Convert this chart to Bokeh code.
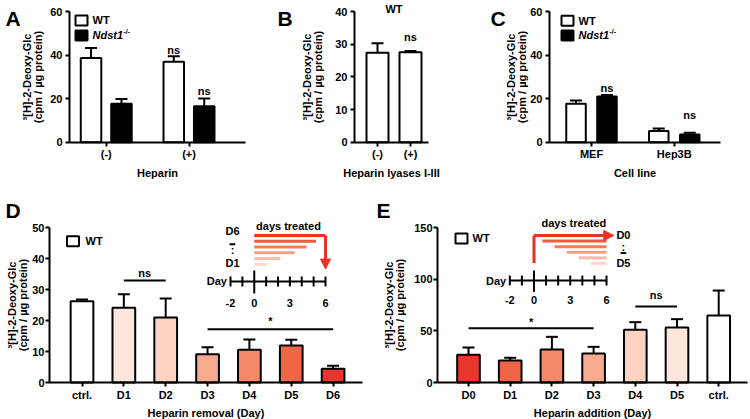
from bokeh.plotting import figure
from bokeh.models import (Range1d, FixedTicker, ColumnDataSource, Whisker, TeeHead,
                          Arrow, NormalHead)
from bokeh.layouts import column, row
from bokeh.embed import file_html
from bokeh.resources import INLINE
from bokeh.core.properties import value

FONT = "Liberation Sans"
FS = "11px"
YLABEL = "³[H]-2-Deoxy-Glc\n(cpm / µg protein)"

# ---------------- data ----------------
# Panel A
a_cats = ["(-)", "(+)"]
a_wt = [38.7, 36.9]
a_wt_err = [4.5, 2.6]
a_ko = [17.6, 16.5]
a_ko_err = [2.2, 3.6]
a_ns_wt = [None, 42.1]
a_ns_ko = [None, 23.7]
# Panel B
b_cats = ["(-)", "(+)"]
b_wt = [27.4, 27.5]
b_wt_err = [2.9, 0.4]
b_ns = [None, 32.1]
# Panel C
c_cats = ["MEF", "Hep3B"]
c_wt = [17.6, 5.1]
c_wt_err = [1.5, 1.2]
c_ko = [21.0, 3.5]
c_ko_err = [0.7, 0.8]
c_ns_ko = [24.9, 12.6]
# Panel D
d_cats = ["ctrl.", "D1", "D2", "D3", "D4", "D5", "D6"]
d_vals = [26.2, 24.1, 21.0, 9.1, 10.6, 11.9, 4.4]
d_err = [0.6, 4.4, 6.1, 2.3, 3.3, 1.9, 1.0]
d_colors = ["#ffffff", "#fde6dc", "#fcd3c1", "#f8aa8e", "#f4896a", "#f06545", "#e8362a"]
d_treat_end = [6, 5.2, 4.4, 3.4, 2.2, 1.1]
# Panel E
e_cats = ["D0", "D1", "D2", "D3", "D4", "D5", "ctrl."]
e_vals = [26.8, 21.3, 31.9, 28.1, 51.0, 53.2, 64.8]
e_err = [7.1, 2.6, 12.3, 6.4, 7.4, 8.1, 24.2]
e_colors = ["#e8362a", "#f06545", "#f4896a", "#f8aa8e", "#fcd3c1", "#fde6dc", "#ffffff"]
e_treat_start = [0, 0.7, 1.7, 2.7, 3.7, 4.7]
# inset schematic
timeline_days = [-2, -1, 0, 1, 2, 3, 4, 5, 6]
timeline_ticklabels = ["-2", "0", "3", "6"]
timeline_tickdays = [-2, 0, 3, 6]
line_colors = ["#ee3124", "#f05a3a", "#f47b5c", "#f7a085", "#f9bba5", "#fcd8ca"]


def setup(ox, oy, w, h, X0, SX, Y0, SY, axis_px, axis_end_px, ymax,
          y_std=3, y_als=5):
    """Frame covers whole canvas; axes are placed at fixed data locations."""
    xr = ((ox - X0) / SX, (ox + w - X0) / SX)
    yr = ((Y0 - (oy + h)) / SY, (Y0 - oy) / SY)
    p = figure(width=w, height=h, x_range=Range1d(*xr), y_range=Range1d(*yr),
               output_backend="svg", toolbar_location=None, title=None,
               min_border=0, min_border_left=0, min_border_right=0,
               min_border_top=0, min_border_bottom=0,
               background_fill_color="white", border_fill_color="white")
    p.outline_line_color = None
    p.xgrid.visible = False
    p.ygrid.visible = False
    for ax in (p.xaxis[0], p.yaxis[0]):
        ax.axis_line_width = 2
        ax.axis_line_color = "black"
        ax.major_tick_line_width = 2
        ax.major_tick_line_color = "black"
        ax.major_tick_out = 4
        ax.major_tick_in = 0
        ax.minor_tick_line_color = None
        ax.major_label_text_font = FONT
        ax.major_label_text_font_size = FS
        ax.major_label_text_font_style = "bold"
        ax.major_label_text_color = "black"
        ax.axis_label_text_font = FONT
        ax.axis_label_text_font_size = FS
        ax.axis_label_text_font_style = "bold"
        ax.axis_label_text_color = "black"
    p.xaxis[0].major_label_standoff = 2
    p.xaxis[0].axis_label_standoff = 3
    p.yaxis[0].major_label_standoff = y_std
    p.yaxis[0].axis_label_standoff = y_als
    p.yaxis[0].axis_label_text_line_height = 0.9
    p.yaxis[0].axis_label = YLABEL
    x_axis = (axis_px - X0) / SX
    x_end = (axis_end_px - X0) / SX
    p.yaxis[0].fixed_location = x_axis
    p.yaxis[0].bounds = (0, ymax)
    p.xaxis[0].fixed_location = 0
    p.xaxis[0].bounds = (x_axis, x_end)

    def to_data(px, py):
        return (px - X0) / SX, (Y0 - py) / SY
    return p, to_data


def set_axes(p, labels, xlabel, yticks):
    p.xaxis[0].ticker = FixedTicker(ticks=list(range(len(labels))))
    p.xaxis[0].major_label_overrides = {i: l for i, l in enumerate(labels)}
    p.xaxis[0].axis_label = xlabel
    p.yaxis[0].ticker = FixedTicker(ticks=yticks)


def bars(p, xs, tops, errs, width, fills):
    src = ColumnDataSource(dict(x=xs, top=tops,
                                upper=[t + e for t, e in zip(tops, errs)],
                                fill=fills))
    p.add_layout(Whisker(source=src, base="x", lower="top", upper="upper",
                         line_width=2, line_color="black",
                         upper_head=TeeHead(size=12, line_width=2, line_color="black"),
                         lower_head=None))
    p.vbar(x="x", top="top", width=width, bottom=0, fill_color="fill",
           line_color="black", line_width=2, source=src)


def txt(p, xs, ys, texts, size=FS, style="bold", align="center", base="middle",
        color="black", **kw):
    p.text(x=xs, y=ys, text=texts, text_font=value(FONT), text_font_size=size,
           text_font_style=style, text_align=align, text_baseline=base,
           text_color=color, **kw)


def letter(p, to_data, px, py_bottom, t):
    x, y = to_data(px, py_bottom)
    txt(p, [x], [y], [t], size="21px", align="left", base="alphabetic")


def legend(p, x_box, x_txt, ys, knockout=True):
    p.rect(x=[x_box], y=[ys[0]], width=12, height=10, width_units="screen",
           height_units="screen", fill_color="white", line_color="black", line_width=2)
    txt(p, [x_txt], [ys[0]], ["WT"], align="left")
    if knockout:
        p.rect(x=[x_box], y=[ys[1]], width=12, height=10, width_units="screen",
               height_units="screen", fill_color="black", line_color="black", line_width=2)
        txt(p, [x_txt], [ys[1]], ["Ndst1"], style="bold italic", align="left")
        txt(p, [x_txt], [ys[1]], ["-/-"], size="7px", align="left",
            x_offset=31, y_offset=-4)


def ns_marks(p, xs, ys, label="ns"):
    pts = [(x, y) for x, y in zip(xs, ys) if y is not None]
    txt(p, [q[0] for q in pts], [q[1] for q in pts], [label] * len(pts))


# ---------------- Panel A ----------------
off, bw = 0.184, 0.248
pA, tA = setup(0, 0, 250, 180, 105.75, 82.75, 141.7, 130.7 / 60, 69, 245, 60,
               y_std=3, y_als=3)
set_axes(pA, a_cats, "Heparin", [0, 20, 40, 60])
gx = list(range(len(a_cats)))
bars(pA, [g - off for g in gx], a_wt, a_wt_err, bw, ["white"] * 2)
bars(pA, [g + off for g in gx], a_ko, a_ko_err, bw, ["black"] * 2)
ns_marks(pA, [g - off for g in gx], a_ns_wt)
ns_marks(pA, [g + off for g in gx], a_ns_ko)
legend(pA, -0.299, -0.166, [55.9, 49.0])
letter(pA, tA, 5, 18, "A")

# ---------------- Panel B ----------------
pB, tB = setup(250, 0, 238, 180, 377, 33, 141.7, 130.7 / 40, 354, 428, 40,
               y_std=3, y_als=8)
set_axes(pB, b_cats, "Heparin lyases I-III", [0, 10, 20, 30, 40])
bars(pB, list(range(len(b_cats))), b_wt, b_wt_err, 0.667, ["white"] * 2)
ns_marks(pB, list(range(len(b_cats))), b_ns)
wx, wy = tB(393.5, 8.5)
txt(pB, [wx], [wy], ["WT"])
letter(pB, tB, 277, 18, "B")

# ---------------- Panel C ----------------
offc, bwc = 0.187, 0.236
pC, tC = setup(488, 0, 262, 180, 591, 82.75, 141.7, 130.7 / 60, 549, 720, 60,
               y_std=3, y_als=-1)
set_axes(pC, c_cats, "Cell line", [0, 20, 40, 60])
gx = list(range(len(c_cats)))
bars(pC, [g - offc for g in gx], c_wt, c_wt_err, bwc, ["white"] * 2)
bars(pC, [g + offc for g in gx], c_ko, c_ko_err, bwc, ["black"] * 2)
ns_marks(pC, [g + offc for g in gx], c_ns_ko)
legend(pC, -0.29, -0.157, [55.7, 49.0])
letter(pC, tC, 490, 18, "C")

# ---------------- Panel D ----------------
pD, tD = setup(0, 180, 375, 239, 81.5, 41.85, 382, 3.1, 49, 362, 50,
               y_std=1, y_als=0)
set_axes(pD, d_cats, "Heparin removal (Day)", [0, 10, 20, 30, 40, 50])
bars(pD, list(range(len(d_cats))), d_vals, d_err, 0.543, d_colors)
legend(pD, -0.215, 0.084, [45.6], knockout=False)
pD.segment(x0=[1, 3], y0=[32.9, 17.2], x1=[2, 6], y1=[32.9, 17.2],
           line_color="black", line_width=2)
txt(pD, [1.5], [35.4], ["ns"])
txt(pD, [4.5], [19.8], ["*"])
letter(pD, tD, 5, 210, "D")
# inset: days axis
pxd = 11.875
pD.extra_x_ranges = {"days": Range1d(-2 - 230 / pxd, -2 + (375 - 230) / pxd)}
tl_y = 32.6
pD.segment(x0=[timeline_days[0]], y0=[tl_y], x1=[timeline_days[-1]], y1=[tl_y],
           line_color="black", line_width=2, x_range_name="days")
pD.segment(x0=timeline_days, x1=timeline_days,
           y0=[tl_y + (3.5 if d == 0 else 1.6) for d in timeline_days],
           y1=[tl_y - (3.9 if d == 0 else 1.6) for d in timeline_days],
           line_color="black", line_width=2, x_range_name="days")
txt(pD, timeline_tickdays, [25.8] * 4, timeline_ticklabels, x_range_name="days")
txt(pD, [-2.3], [tl_y], ["Day"], align="right", x_range_name="days")
d_line_y = [47.4 - i * 1.86 for i in range(len(d_treat_end))]
pD.segment(x0=[0] * len(d_treat_end), x1=d_treat_end, y0=d_line_y, y1=d_line_y,
           line_color=line_colors, line_width=3, x_range_name="days")
pD.add_layout(Arrow(end=NormalHead(size=10, fill_color=line_colors[0],
                                   line_color=line_colors[0]),
                    x_start=d_treat_end[0], y_start=d_line_y[0],
                    x_end=d_treat_end[0], y_end=36.6,
                    line_color=line_colors[0], line_width=3, x_range_name="days"))
txt(pD, [2.88], [50.6], ["days treated"], x_range_name="days")
txt(pD, [-1.83, -1.83], [49.0, 38.7], ["D6", "D1"], x_range_name="days")
pD.segment(x0=[-2.08], x1=[-1.6], y0=[44.6], y1=[44.6], line_color="black",
           line_width=2, x_range_name="days")
txt(pD, [-1.83], [42.6], [":"], x_range_name="days")

# ---------------- Panel E ----------------
pE, tE = setup(375, 180, 375, 239, 468, 41.7, 382, 155 / 150, 437, 747, 150,
               y_std=1, y_als=5)
set_axes(pE, e_cats, "Heparin addition (Day)", [0, 50, 100, 150])
bars(pE, list(range(len(e_cats))), e_vals, e_err, 0.543, e_colors)
legend(pE, -0.168, 0.096, [139.4], knockout=False)
pE.segment(x0=[0, 4], y0=[52.6, 73.5], x1=[3, 5], y1=[52.6, 73.5],
           line_color="black", line_width=2)
txt(pE, [4.5], [84.2], ["ns"])
txt(pE, [1.5], [58.5], ["*"])
letter(pE, tE, 376, 210, "E")
pxe = 12.09
pE.extra_x_ranges = {"days": Range1d(-2 - (509.3 - 375) / pxe, -2 + (750 - 509.3) / pxe)}
tl_e = 98.7
pE.segment(x0=[timeline_days[0]], y0=[tl_e], x1=[timeline_days[-1]], y1=[tl_e],
           line_color="black", line_width=2, x_range_name="days")
pE.segment(x0=timeline_days, x1=timeline_days,
           y0=[tl_e + (9.7 if d == 0 else 4.8) for d in timeline_days],
           y1=[tl_e - (11.0 if d == 0 else 4.8) for d in timeline_days],
           line_color="black", line_width=2, x_range_name="days")
txt(pE, timeline_tickdays, [79.4] * 4, timeline_ticklabels, x_range_name="days")
txt(pE, [-2.3], [tl_e], ["Day"], align="right", x_range_name="days")
e_line_y = [142.3 - i * 5.42 for i in range(len(e_treat_start))]
pE.segment(x0=[0], x1=[0], y0=[115.5], y1=[e_line_y[0]], line_color=line_colors[0],
           line_width=3, x_range_name="days")
pE.segment(x0=e_treat_start[1:], x1=[6] * 5, y0=e_line_y[1:], y1=e_line_y[1:],
           line_color=line_colors[1:], line_width=3, x_range_name="days")
pE.add_layout(Arrow(end=NormalHead(size=10, fill_color=line_colors[0],
                                   line_color=line_colors[0]),
                    x_start=e_treat_start[0], y_start=e_line_y[0],
                    x_end=6.6, y_end=e_line_y[0],
                    line_color=line_colors[0], line_width=3, x_range_name="days"))
txt(pE, [3.3], [153.9], ["days treated"], x_range_name="days")
txt(pE, [7.4, 7.4], [143.2, 115.2], ["D0", "D5"], x_range_name="days")
txt(pE, [7.4], [131.0], [":"], x_range_name="days")
pE.segment(x0=[7.17], x1=[7.63], y0=[125.3], y1=[125.3], line_color="black",
           line_width=2, x_range_name="days")

layout = column(row(pA, pB, pC), row(pD, pE))
open("out.html", "w").write(file_html(layout, INLINE))
